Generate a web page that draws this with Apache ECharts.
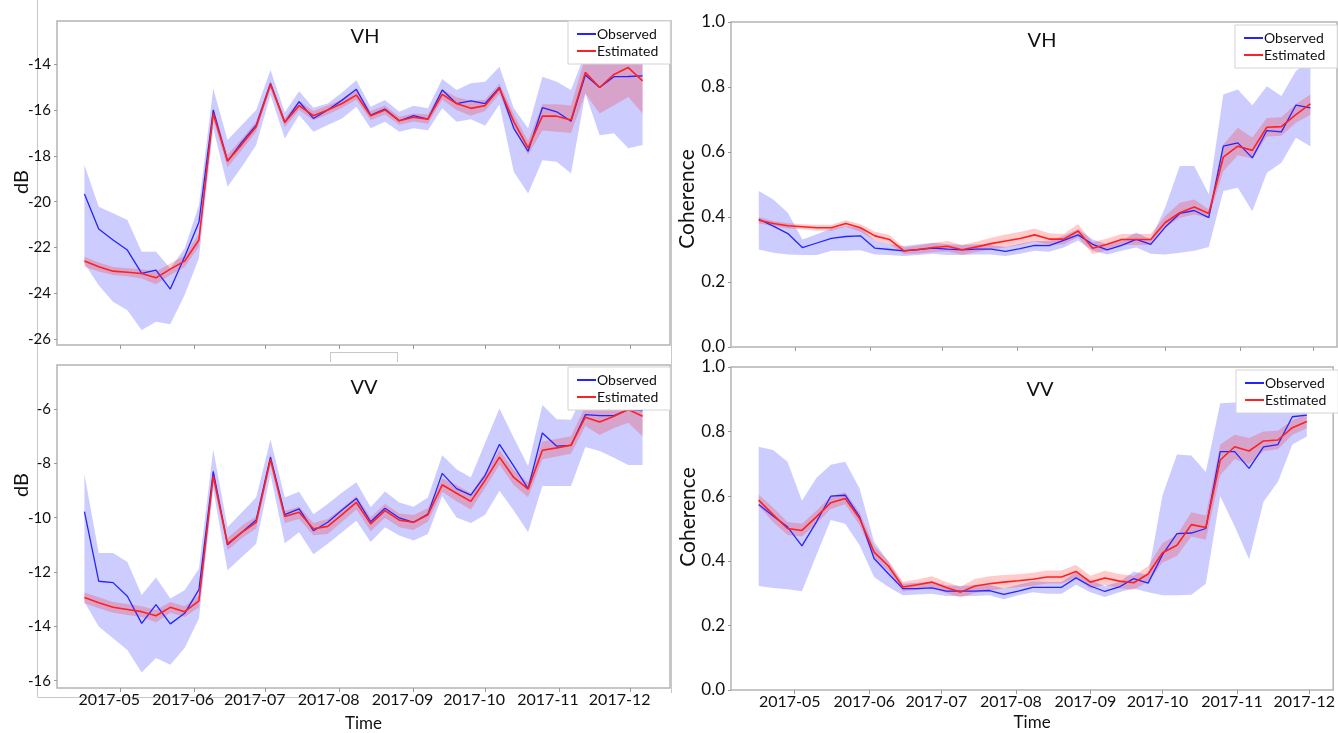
<!DOCTYPE html>
<html>
<head>
<meta charset="utf-8">
<script src="https://cdn.jsdelivr.net/npm/echarts@6/dist/echarts.min.js"></script>
<style>
html,body{margin:0;padding:0;background:#fff;}
#chart{width:1338px;height:733px;}
</style>
</head>
<body>
<div id="chart"></div>
<script>
// ---------------- data ----------------
const dates = ['2017-04-16','2017-04-22','2017-04-28','2017-05-04','2017-05-10','2017-05-16','2017-05-22','2017-05-28',
  '2017-06-03','2017-06-09','2017-06-15','2017-06-21','2017-06-27','2017-07-03','2017-07-09','2017-07-15','2017-07-21',
  '2017-07-27','2017-08-02','2017-08-08','2017-08-14','2017-08-20','2017-08-26','2017-09-01','2017-09-07','2017-09-13',
  '2017-09-19','2017-09-25','2017-10-01','2017-10-07','2017-10-13','2017-10-19','2017-10-25','2017-10-31','2017-11-06',
  '2017-11-12','2017-11-18','2017-11-24','2017-11-30','2017-12-06'];
const cohDates = dates.slice(0, 39);
const monthTicks = ['2017-05-01','2017-06-01','2017-07-01','2017-08-01','2017-09-01','2017-10-01','2017-11-01','2017-12-01'];
const xRangeLeft = ['2017-04-04T12:00', '2017-12-17T12:00'];
const xRangeRight = ['2017-04-04T12:00', '2017-12-11T00:00'];

const yTicksVHdB = [-26, -24, -22, -20, -18, -16, -14];
const yTicksVVdB = [-16, -14, -12, -10, -8, -6];
const yTicksCoh = [0, 0.2, 0.4, 0.6, 0.8, 1.0];

// VH backscatter (dB)
const vhDbObs = [-19.67,-21.19,-21.67,-22.11,-23.13,-22.98,-23.81,-22.4,-20.9,-16.0,-18.23,-17.4,-16.66,-14.84,-16.54,-15.64,-16.37,-16.0,-15.57,-15.1,-16.22,-15.96,-16.47,-16.25,-16.4,-15.13,-15.72,-15.6,-15.72,-15.02,-16.8,-17.8,-15.9,-16.08,-16.49,-14.48,-15.02,-14.55,-14.54,-14.51];
const vhDbObsLow = [-22.7,-23.64,-24.36,-24.73,-25.6,-25.24,-25.35,-24.07,-22.47,-16.8,-19.35,-18.48,-17.53,-15.35,-17.24,-16.22,-16.95,-16.66,-16.37,-15.86,-16.8,-16.51,-16.95,-16.8,-16.88,-15.93,-16.51,-16.4,-16.69,-15.76,-18.69,-19.64,-18.19,-18.26,-18.77,-15.28,-17.1,-17.02,-17.67,-17.53];
const vhDbObsHigh = [-18.4,-20.22,-20.5,-20.8,-22.18,-22.18,-22.9,-22.04,-20.15,-15.06,-17.31,-16.66,-16.0,-14.26,-16.1,-15.18,-15.9,-15.72,-15.24,-14.7,-15.86,-15.57,-16.08,-15.82,-15.93,-14.65,-15.13,-14.84,-14.77,-14.12,-15.93,-16.8,-14.55,-14.77,-15.13,-13.5,-13.5,-13.5,-13.5,-13.5];
const vhDbEst = [-22.59,-22.84,-23.03,-23.08,-23.13,-23.32,-22.94,-22.59,-21.67,-16.15,-18.23,-17.5,-16.73,-14.89,-16.54,-15.81,-16.25,-16.0,-15.72,-15.35,-16.25,-16.0,-16.47,-16.32,-16.4,-15.32,-15.72,-15.93,-15.81,-15.06,-16.51,-17.65,-16.27,-16.27,-16.44,-14.36,-15.02,-14.45,-14.15,-14.73];
const vhDbEstLow = [-22.84,-23.05,-23.2,-23.25,-23.35,-23.6,-23.2,-22.85,-21.95,-16.4,-18.5,-17.75,-16.95,-15.05,-16.75,-16.0,-16.45,-16.2,-15.9,-15.55,-16.45,-16.2,-16.65,-16.5,-16.6,-15.55,-16.0,-16.25,-16.05,-15.3,-16.8,-17.95,-16.9,-16.95,-17.0,-15.28,-16.15,-15.79,-15.43,-16.15];
const vhDbEstHigh = [-22.4,-22.65,-22.85,-22.9,-22.95,-23.05,-22.7,-22.35,-21.4,-15.9,-17.95,-17.25,-16.5,-14.7,-16.35,-15.6,-16.05,-15.8,-15.55,-15.15,-16.05,-15.8,-16.3,-16.15,-16.2,-15.1,-15.45,-15.6,-15.55,-14.85,-16.2,-17.35,-15.75,-15.75,-15.8,-13.7,-13.9,-13.7,-13.5,-13.9];

// VV backscatter (dB)
const vvDbObs = [-9.78,-12.34,-12.39,-12.89,-13.89,-13.2,-13.91,-13.52,-12.65,-8.3,-11.0,-10.54,-10.09,-7.77,-9.89,-9.68,-10.48,-10.17,-9.72,-9.29,-10.15,-9.65,-10.01,-10.17,-9.87,-8.37,-8.93,-9.17,-8.44,-7.3,-8.1,-8.93,-6.88,-7.37,-7.34,-6.21,-6.24,-6.24,-6.02,-6.06];
const vvDbObsLow = [-13.1,-14.01,-14.44,-14.87,-15.7,-15.17,-15.41,-14.8,-13.71,-8.95,-11.94,-11.45,-10.96,-8.4,-10.94,-10.54,-11.35,-10.96,-10.54,-10.11,-10.9,-10.35,-10.66,-10.84,-10.6,-9.2,-9.99,-10.2,-9.89,-9.01,-9.74,-10.54,-8.83,-8.83,-8.83,-7.4,-7.55,-7.79,-8.06,-8.06];
const vvDbObsHigh = [-8.4,-11.3,-11.3,-11.63,-12.85,-12.2,-12.98,-12.67,-11.88,-7.49,-10.35,-9.8,-9.26,-7.12,-9.26,-9.05,-9.87,-9.5,-9.07,-8.7,-9.62,-9.04,-9.44,-9.6,-9.26,-7.7,-8.22,-8.52,-7.24,-5.98,-7.06,-8.1,-5.85,-6.38,-6.4,-5.3,-5.3,-5.3,-5.3,-5.3];
const vvDbEst = [-12.94,-13.13,-13.3,-13.38,-13.46,-13.61,-13.3,-13.46,-13.06,-8.46,-10.96,-10.54,-10.17,-7.85,-9.96,-9.8,-10.41,-10.32,-9.89,-9.44,-10.23,-9.74,-10.09,-10.17,-9.89,-8.79,-9.1,-9.4,-8.62,-7.77,-8.52,-8.95,-7.52,-7.43,-7.33,-6.3,-6.48,-6.27,-6.02,-6.27];
const vvDbEstLow = [-13.15,-13.33,-13.5,-13.58,-13.66,-13.85,-13.5,-13.66,-13.3,-8.7,-11.2,-10.75,-10.4,-8.05,-10.2,-10.05,-10.65,-10.6,-10.15,-9.7,-10.5,-10.0,-10.35,-10.45,-10.15,-9.05,-9.4,-9.7,-8.9,-8.05,-8.8,-9.25,-7.85,-7.75,-7.65,-6.63,-6.96,-6.7,-6.51,-7.0];
const vvDbEstHigh = [-12.75,-12.93,-13.1,-13.18,-13.26,-13.4,-13.1,-13.26,-12.85,-8.2,-10.75,-10.3,-9.95,-7.65,-9.75,-9.6,-10.2,-10.05,-9.65,-9.2,-9.98,-9.5,-9.85,-9.9,-9.65,-8.55,-8.8,-9.1,-8.35,-7.5,-8.25,-8.7,-7.2,-7.1,-7.0,-5.9,-6.0,-5.85,-5.6,-5.7];

// VH coherence
const vhCohObs = [0.393,0.372,0.349,0.306,0.32,0.334,0.34,0.342,0.304,0.3,0.296,0.3,0.304,0.301,0.299,0.301,0.301,0.294,0.303,0.313,0.312,0.328,0.345,0.316,0.299,0.313,0.331,0.316,0.369,0.411,0.42,0.398,0.618,0.628,0.582,0.666,0.662,0.744,0.736];
const vhCohObsLow = [0.30,0.29,0.285,0.283,0.283,0.296,0.296,0.298,0.285,0.283,0.28,0.283,0.287,0.283,0.283,0.285,0.285,0.28,0.287,0.296,0.293,0.306,0.328,0.296,0.285,0.296,0.306,0.287,0.285,0.29,0.296,0.308,0.48,0.49,0.418,0.536,0.567,0.644,0.618];
const vhCohObsHigh = [0.48,0.454,0.413,0.331,0.347,0.365,0.372,0.367,0.328,0.316,0.311,0.316,0.321,0.316,0.314,0.316,0.314,0.308,0.318,0.326,0.326,0.342,0.362,0.331,0.316,0.328,0.352,0.331,0.43,0.557,0.557,0.47,0.777,0.792,0.744,0.802,0.772,0.849,0.88];
const vhCohEst = [0.39,0.38,0.373,0.37,0.367,0.367,0.38,0.367,0.342,0.331,0.296,0.3,0.306,0.31,0.299,0.308,0.318,0.326,0.334,0.345,0.332,0.332,0.357,0.304,0.316,0.331,0.331,0.331,0.383,0.413,0.431,0.411,0.584,0.618,0.605,0.676,0.678,0.715,0.748];
const vhCohEstLow = [0.38,0.372,0.365,0.362,0.358,0.358,0.37,0.355,0.328,0.316,0.286,0.288,0.292,0.294,0.284,0.292,0.3,0.306,0.314,0.325,0.314,0.316,0.338,0.286,0.298,0.314,0.314,0.314,0.367,0.398,0.408,0.398,0.541,0.59,0.58,0.648,0.65,0.69,0.715];
const vhCohEstHigh = [0.40,0.388,0.381,0.378,0.376,0.376,0.39,0.378,0.355,0.345,0.306,0.312,0.32,0.326,0.314,0.324,0.336,0.346,0.354,0.365,0.35,0.348,0.378,0.322,0.334,0.348,0.348,0.348,0.403,0.444,0.454,0.423,0.623,0.675,0.645,0.705,0.707,0.748,0.777];

// VV coherence
const vvCohObs = [0.574,0.539,0.505,0.446,0.52,0.6,0.603,0.536,0.407,0.36,0.314,0.314,0.316,0.306,0.306,0.306,0.308,0.296,0.306,0.318,0.318,0.318,0.347,0.322,0.305,0.319,0.345,0.331,0.419,0.484,0.486,0.5,0.738,0.738,0.686,0.753,0.76,0.846,0.851];
const vvCohObsLow = [0.322,0.316,0.312,0.306,0.417,0.526,0.515,0.448,0.35,0.319,0.293,0.296,0.298,0.291,0.291,0.291,0.293,0.281,0.293,0.303,0.298,0.298,0.326,0.303,0.288,0.303,0.314,0.303,0.293,0.293,0.295,0.329,0.6,0.507,0.405,0.583,0.645,0.76,0.785];
const vvCohObsHigh = [0.753,0.743,0.707,0.586,0.656,0.697,0.707,0.624,0.459,0.396,0.329,0.332,0.334,0.324,0.322,0.324,0.326,0.314,0.326,0.337,0.334,0.334,0.365,0.34,0.322,0.334,0.367,0.355,0.603,0.729,0.726,0.675,0.888,0.89,0.89,0.89,0.89,0.89,0.89];
const vvCohEst = [0.588,0.543,0.5,0.494,0.536,0.58,0.593,0.531,0.427,0.384,0.319,0.326,0.334,0.317,0.303,0.322,0.329,0.334,0.338,0.343,0.35,0.35,0.367,0.334,0.347,0.337,0.332,0.359,0.425,0.448,0.512,0.503,0.712,0.753,0.74,0.771,0.774,0.812,0.831];
const vvCohEstLow = [0.57,0.52,0.48,0.475,0.515,0.56,0.575,0.51,0.41,0.368,0.305,0.31,0.316,0.3,0.286,0.3,0.308,0.314,0.318,0.323,0.33,0.33,0.347,0.314,0.325,0.315,0.31,0.335,0.395,0.415,0.475,0.465,0.665,0.715,0.7,0.74,0.745,0.79,0.81];
const vvCohEstHigh = [0.605,0.565,0.52,0.515,0.555,0.6,0.612,0.55,0.445,0.4,0.335,0.342,0.352,0.334,0.32,0.344,0.352,0.356,0.358,0.363,0.37,0.37,0.387,0.354,0.369,0.359,0.354,0.383,0.455,0.48,0.55,0.54,0.76,0.79,0.78,0.8,0.803,0.835,0.853];

// ---------------- chart ----------------
const FONT = 'Lato, "Open Sans", sans-serif';
const BLUE = '#2424ff', RED = '#ff2020';
const BLUE_BAND = 'rgba(40,40,255,0.24)', RED_BAND = 'rgba(255,20,20,0.22)';
function t(s) { return new Date(s.length === 10 ? s + 'T00:00' : s).getTime(); }
function fmtMonth(v) { const d = new Date(v); return d.getFullYear() + '-' + String(d.getMonth() + 1).padStart(2, '0'); }

const grids = [
  {left: 57, top: 21, width: 613, height: 324},
  {left: 57, top: 365, width: 613, height: 325},
  {left: 731, top: 22, width: 606, height: 325},
  {left: 731, top: 367, width: 606, height: 323}
].map(g => Object.assign(g, {show: true, borderColor: '#b4b4b4', borderWidth: 1.5, backgroundColor: '#fff'}));

function mkX(gi, range, showLabels, gap, labelShift) {
  const tickVals = monthTicks.map(t);
  return {
    type: 'value', gridIndex: gi, min: t(range[0]), max: t(range[1]),
    axisLine: {show: false},
    axisTick: {show: true, customValues: tickVals, length: 4, lineStyle: {color: '#999'}},
    axisLabel: {show: showLabels, customValues: tickVals, formatter: fmtMonth, fontSize: 16,
      fontFamily: FONT, color: '#111', margin: 4, padding: [0, labelShift, 0, 0]},
    splitLine: {show: false},
    name: showLabels ? 'Time' : '', nameLocation: 'middle', nameGap: gap,
    nameTextStyle: {fontSize: 17, fontFamily: FONT, color: '#111'}
  };
}
function mkY(gi, min, max, ticks, fs, fmt) {
  return {
    type: 'value', gridIndex: gi, min: min, max: max,
    axisLine: {show: false},
    axisTick: {show: true, customValues: ticks, length: 3, lineStyle: {color: '#999'}},
    axisLabel: {customValues: ticks, fontSize: fs, fontFamily: FONT, color: '#111', margin: 6, formatter: fmt},
    splitLine: {show: false}
  };
}
const xAxes = [
  mkX(0, xRangeLeft, false, 0, 0),
  mkX(1, xRangeLeft, true, 27, 22),
  mkX(2, xRangeRight, false, 0, 0),
  mkX(3, xRangeRight, true, 24, 10)
];
const yAxes = [
  mkY(0, -26.25, -12.12, yTicksVHdB, 15, v => String(v)),
  mkY(1, -16.27, -4.38, yTicksVVdB, 15, v => String(v)),
  mkY(2, 0, 1, yTicksCoh, 17, v => v.toFixed(1)),
  mkY(3, 0, 1, yTicksCoh, 17, v => v.toFixed(1))
];

function pairs(x, y) { return x.map((d, i) => [t(d), y[i]]); }
// Shaded band drawn as one polygon through the axis scales (api.coord)
function band(gi, x, low, high, color, z) {
  const data = x.map((d, i) => [t(d), low[i], high[i]]);
  return {
    type: 'custom', xAxisIndex: gi, yAxisIndex: gi, data: data, silent: true, z: z, clip: true,
    encode: {x: 0, y: [1, 2]},
    renderItem: function (params, api) {
      if (params.dataIndex !== 0) return null;
      const pts = [];
      for (let i = 0; i < data.length; i++) pts.push(api.coord([data[i][0], data[i][2]]));
      for (let i = data.length - 1; i >= 0; i--) pts.push(api.coord([data[i][0], data[i][1]]));
      return {type: 'polygon', shape: {points: pts}, style: {fill: color, stroke: null}};
    }
  };
}
function line(gi, name, x, y, color, w, z) {
  return {type: 'line', name: name, xAxisIndex: gi, yAxisIndex: gi, data: pairs(x, y), symbol: 'none',
    lineStyle: {color: color, width: w}, itemStyle: {color: color}, silent: true, z: z};
}
const panels = [
  [0, dates, vhDbObs, vhDbObsLow, vhDbObsHigh, vhDbEst, vhDbEstLow, vhDbEstHigh],
  [1, dates, vvDbObs, vvDbObsLow, vvDbObsHigh, vvDbEst, vvDbEstLow, vvDbEstHigh],
  [2, cohDates, vhCohObs, vhCohObsLow, vhCohObsHigh, vhCohEst, vhCohEstLow, vhCohEstHigh],
  [3, cohDates, vvCohObs, vvCohObsLow, vvCohObsHigh, vvCohEst, vvCohEstLow, vvCohEstHigh]
];
let series = [];
panels.forEach(([gi, x, o, ol, oh, e, el, eh]) => {
  series.push(band(gi, x, ol, oh, BLUE_BAND, 1));
  series.push(band(gi, x, el, eh, RED_BAND, 2));
  series.push(line(gi, 'Observed', x, o, BLUE, 1.3, 3));
  series.push(line(gi, 'Estimated', x, e, RED, 1.6, 4));
});

const legendPos = [[568, 21], [568, 367], [1235, 25], [1236, 370]];
const legends = legendPos.map(p => ({
  data: ['Observed', 'Estimated'], orient: 'vertical', left: p[0], top: p[1],
  icon: 'rect', itemWidth: 19, itemHeight: 2, itemGap: 3, padding: [6, 12, 6, 9],
  borderColor: '#d4d4d4', borderWidth: 1, backgroundColor: '#fff', selectedMode: false,
  textStyle: {fontSize: 14, fontFamily: FONT, color: '#111', padding: [0, 0, 0, -4]}, z: 10
}));

const titles = [['VH', 365, 27], ['VV', 364, 378], ['VH', 1042, 31], ['VV', 1040, 380]].map(a => ({
  text: a[0], left: a[1], top: a[2], textAlign: 'center', padding: 0,
  textStyle: {fontSize: 20, fontWeight: 'normal', fontFamily: FONT, color: '#111'}
}));

function vtext(txt, x, y, fs) {
  return {type: 'text', x: x, y: y, rotation: Math.PI / 2,
    style: {text: txt, fontSize: fs, fontFamily: FONT, fill: '#111', align: 'center', verticalAlign: 'middle'}, z: 20};
}
function ln(x1, y1, x2, y2) {
  return {type: 'line', shape: {x1, y1, x2, y2}, style: {stroke: '#c8c8c8', lineWidth: 1}, z: 0, silent: true};
}

const chart = echarts.init(document.getElementById('chart'), null, {renderer: 'canvas'});
chart.setOption({
  animation: false,
  backgroundColor: '#fff',
  title: titles,
  legend: legends,
  grid: grids,
  xAxis: xAxes,
  yAxis: yAxes,
  series: series,
  graphic: [
    vtext('dB', 22, 182, 20),
    vtext('dB', 22, 485, 20),
    vtext('Coherence', 687, 199, 21),
    vtext('Coherence', 688, 517, 21),
    ln(37.5, 0, 37.5, 697), ln(37.5, 697.5, 322, 697.5),
    ln(671.5, 20, 671.5, 693),
    ln(330, 352.5, 398, 352.5), ln(330.5, 352, 330.5, 362), ln(397.5, 352, 397.5, 362)
  ]
});
</script>
</body>
</html>
